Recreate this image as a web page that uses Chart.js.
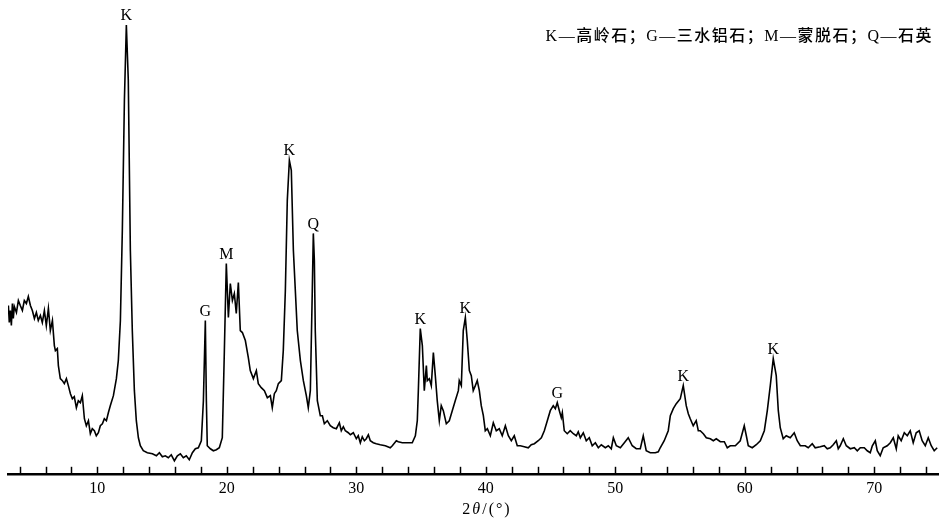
<!DOCTYPE html>
<html>
<head>
<meta charset="utf-8">
<script src="https://cdn.jsdelivr.net/npm/chart.js@4.4.1/dist/chart.umd.min.js"></script>
<style>
  html, body { margin: 0; padding: 0; background: #fff; }
  #wrap { width: 939px; height: 523px; }
</style>
</head>
<body>
<div id="wrap"><canvas id="xrdChart" width="939" height="523"></canvas></div>
<script>
// Datos del difractograma (2θ en grados, intensidad relativa)
const twoTheta = [
  3.13, 3.20, 3.28, 3.36, 3.44, 3.51, 3.59, 3.75, 3.90, 4.05, 4.21, 4.36, 4.52, 4.67, 4.83, 4.98,
  5.14, 5.29, 5.44, 5.60, 5.75, 5.91, 6.06, 6.22, 6.37, 6.53, 6.68, 6.76, 6.91, 6.99, 7.14, 7.30,
  7.45, 7.61, 7.76, 7.92, 8.07, 8.22, 8.38, 8.53, 8.69, 8.84, 9.00, 9.15, 9.31, 9.46, 9.61, 9.77,
  9.92, 10.08, 10.23, 10.39, 10.54, 10.70, 10.85, 11.00, 11.24, 11.47, 11.62, 11.78, 11.93, 12.09,
  12.24, 12.39, 12.55, 12.70, 12.86, 13.01, 13.17, 13.32, 13.55, 13.86, 14.25, 14.56, 14.79, 15.02,
  15.25, 15.48, 15.71, 15.95, 16.18, 16.41, 16.64, 16.87, 17.10, 17.34, 17.57, 17.80, 18.03, 18.19,
  18.34, 18.42, 18.49, 18.73, 18.96, 19.19, 19.42, 19.65, 19.81, 19.96, 20.12, 20.27, 20.43, 20.58,
  20.73, 20.89, 21.04, 21.20, 21.43, 21.66, 21.81, 22.05, 22.28, 22.43, 22.66, 22.90, 23.13, 23.36,
  23.51, 23.67, 23.82, 23.98, 24.21, 24.36, 24.52, 24.67, 24.83, 24.98, 25.14, 25.29, 25.44, 25.68,
  25.91, 26.14, 26.29, 26.45, 26.60, 26.68, 26.76, 26.83, 26.99, 27.22, 27.38, 27.53, 27.76, 27.99,
  28.22, 28.46, 28.69, 28.84, 29.00, 29.15, 29.38, 29.54, 29.77, 30.00, 30.15, 30.31, 30.46, 30.62,
  30.77, 30.93, 31.08, 31.31, 31.54, 31.85, 32.24, 32.62, 32.78, 33.09, 33.24, 33.55, 34.32, 34.56,
  34.71, 34.79, 34.94, 35.10, 35.25, 35.41, 35.48, 35.64, 35.79, 35.95, 36.10, 36.25, 36.41, 36.56,
  36.72, 36.95, 37.18, 37.41, 37.64, 37.88, 37.95, 38.11, 38.26, 38.42, 38.57, 38.73, 38.88, 39.03,
  39.19, 39.34, 39.50, 39.65, 39.81, 39.96, 40.12, 40.35, 40.58, 40.81, 41.04, 41.27, 41.51, 41.74,
  41.97, 42.20, 42.43, 42.66, 42.97, 43.28, 43.51, 43.75, 44.05, 44.29, 44.52, 44.75, 44.98, 45.21,
  45.37, 45.52, 45.68, 45.83, 45.91, 46.06, 46.29, 46.52, 46.76, 46.99, 47.14, 47.30, 47.53, 47.76,
  47.99, 48.22, 48.46, 48.69, 48.92, 49.23, 49.46, 49.69, 49.85, 50.08, 50.39, 50.70, 51.00, 51.31,
  51.62, 51.93, 52.16, 52.39, 52.70, 53.09, 53.32, 53.47, 53.78, 54.09, 54.25, 54.48, 54.71, 55.02,
  55.25, 55.48, 55.64, 55.79, 56.02, 56.25, 56.41, 56.56, 56.80, 57.03, 57.34, 57.57, 57.80, 58.11,
  58.42, 58.65, 58.88, 59.27, 59.65, 59.96, 60.12, 60.27, 60.58, 60.89, 61.20, 61.51, 61.74, 61.97,
  62.20, 62.43, 62.59, 62.74, 62.97, 63.20, 63.51, 63.82, 64.05, 64.29, 64.67, 64.90, 65.21, 65.44,
  65.83, 66.14, 66.37, 66.60, 66.83, 67.07, 67.22, 67.37, 67.61, 67.84, 68.15, 68.46, 68.69, 68.92,
  69.23, 69.46, 69.69, 69.85, 70.08, 70.23, 70.46, 70.69, 71.00, 71.24, 71.47, 71.70, 71.85, 72.08,
  72.32, 72.55, 72.78, 73.01, 73.24, 73.47, 73.70, 73.94, 74.17, 74.40, 74.63, 74.86
];

const intensity = [
  168, 151, 163, 148, 170, 155, 167, 161, 173, 168, 163, 173, 170, 177, 168, 163,
  155, 161, 153, 158, 151, 163, 148, 165, 143, 153, 128, 123, 125, 108, 95, 93,
  90, 95, 88, 80, 75, 77, 66, 73, 71, 78, 55, 48, 53, 40, 45, 43,
  38, 41, 48, 50, 55, 53, 61, 68, 78, 95, 113, 153, 243, 373,
  448, 393, 223, 143, 83, 53, 36, 28, 23, 21, 20, 18, 21, 17,
  18, 16, 19, 13, 18, 20, 16, 18, 14, 21, 25, 26, 33, 73,
  153, 73, 28, 25, 23, 24, 26, 36, 123, 210, 156, 190, 173, 180,
  160, 191, 143, 141, 133, 116, 103, 95, 103, 90, 86, 83, 76, 78,
  66, 80, 83, 90, 93, 123, 183, 273, 313, 303, 223, 183, 143, 113,
  93, 78, 66, 83, 183, 240, 213, 143, 73, 58, 58, 50, 53, 48,
  46, 45, 51, 43, 47, 43, 41, 39, 41, 35, 38, 31, 37, 33,
  35, 39, 33, 31, 30, 29, 28, 26, 28, 33, 32, 31, 31, 38,
  53, 83, 145, 128, 83, 108, 93, 95, 88, 121, 98, 73, 53, 68,
  63, 50, 53, 63, 73, 83, 93, 88, 143, 156, 133, 103, 98, 83,
  88, 93, 83, 68, 58, 43, 45, 38, 51, 43, 45, 38, 48, 38,
  33, 38, 28, 28, 27, 26, 29, 30, 33, 36, 43, 53, 63, 68,
  65, 71, 63, 56, 61, 43, 40, 43, 40, 38, 42, 36, 41, 33,
  36, 28, 31, 26, 29, 26, 28, 25, 36, 28, 26, 31, 36, 28,
  25, 25, 38, 23, 21, 21, 22, 26, 33, 43, 58, 65, 70, 75,
  88, 68, 60, 55, 48, 53, 43, 43, 40, 36, 35, 33, 35, 32,
  32, 26, 28, 28, 33, 48, 38, 28, 26, 29, 33, 43, 63, 88,
  115, 98, 63, 46, 35, 38, 36, 41, 33, 28, 28, 26, 30, 26,
  27, 28, 25, 26, 29, 33, 25, 28, 35, 28, 25, 26, 23, 26,
  26, 23, 21, 28, 33, 23, 18, 26, 28, 31, 36, 25, 38, 33,
  41, 38, 43, 31, 41, 43, 33, 28, 36, 28, 23, 26
];

// Marcas del eje x (menores cada 2°, etiquetas cada 10°)
const tickValues = [4, 6, 8, 10, 12, 14, 16, 18, 20, 22, 24, 26, 28, 30, 32, 34, 36, 38,
  40, 42, 44, 46, 48, 50, 52, 54, 56, 58, 60, 62, 64, 66, 68, 70, 72, 74];
const tickLabels = [10, 20, 30, 40, 50, 60, 70];

// Picos identificados
const peakLetters = ['K', 'G', 'M', 'K', 'Q', 'K', 'K', 'G', 'K', 'K'];
const peakTheta = [12.24, 18.34, 19.96, 24.83, 26.68, 34.94, 38.42, 45.52, 55.25, 62.20];

const legendText = 'K—高岭石；G—三水铝石；M—蒙脱石；Q—石英';

const serif = '"Liberation Serif", "DejaVu Serif", serif';
const cjk = '"Liberation Serif", "Noto Sans CJK SC", serif';

// Función para dibujar las marcas hacia arriba, las letras y los textos
const xrdDecor = {
  id: 'xrdDecor',
  afterDraw(chart) {
    const ctx = chart.ctx;
    const xs = chart.scales.x;
    const ys = chart.scales.y;
    const base = chart.chartArea.bottom;

    ctx.save();
    ctx.strokeStyle = '#000';
    ctx.lineWidth = 1.5;
    tickValues.forEach(v => {
      const px = Math.round(xs.getPixelForValue(v)) + 0.5;
      ctx.beginPath();
      ctx.moveTo(px, base);
      ctx.lineTo(px, base - 7);
      ctx.stroke();
    });

    // Letras sobre los picos
    ctx.fillStyle = '#000';
    ctx.font = '16px ' + serif;
    ctx.textAlign = 'center';
    ctx.textBaseline = 'middle';
    peakLetters.forEach((letter, i) => {
      const idx = twoTheta.indexOf(peakTheta[i]);
      const px = xs.getPixelForValue(peakTheta[i]);
      const py = ys.getPixelForValue(intensity[idx]);
      ctx.fillText(letter, px, py - 9);
    });

    // Leyenda de minerales
    ctx.font = '500 16px ' + cjk;
    ctx.textAlign = 'right';
    ctx.letterSpacing = '1.5px';
    ctx.fillText(legendText, 933, 37);

    // Título del eje: 2θ/(°)
    ctx.textAlign = 'left';
    ctx.letterSpacing = '2px';
    const y0 = 510;
    const parts = [['2', 'normal'], ['θ', 'italic'], ['/(°)', 'normal']];
    let total = 0;
    parts.forEach(p => {
      ctx.font = p[1] + ' 16px ' + serif;
      total += ctx.measureText(p[0]).width;
    });
    let cx = 487 - total / 2;
    parts.forEach(p => {
      ctx.font = p[1] + ' 16px ' + serif;
      ctx.fillText(p[0], cx, y0);
      cx += ctx.measureText(p[0]).width;
    });
    ctx.letterSpacing = '0px';
    ctx.restore();
  }
};

const points = twoTheta.map((t, i) => ({ x: t, y: intensity[i] }));

const config = {
  type: 'line',
  data: {
    datasets: [{
      data: points,
      borderColor: '#000',
      borderWidth: 1.6,
      pointRadius: 0,
      tension: 0,
      fill: false,
    }],
  },
  options: {
    responsive: false,
    animation: false,
    layout: { padding: { left: 8, right: 0, top: 0, bottom: 20 } },
    plugins: {
      legend: { display: false },
      tooltip: { enabled: false },
    },
    scales: {
      x: {
        type: 'linear',
        min: 3.1,
        max: 75.0,
        afterBuildTicks: axis => {
          axis.ticks = tickValues.map(v => ({ value: v }));
        },
        grid: { display: false, drawTicks: false },
        border: { display: true, color: '#000', width: 2.5 },
        ticks: {
          autoSkip: false,
          maxRotation: 0,
          padding: 5,
          color: '#000',
          font: { family: serif, size: 16 },
          callback: v => tickLabels.includes(v) ? String(v) : '',
        },
      },
      y: {
        display: false,
        min: 0,
        max: 473,
      },
    },
  },
  plugins: [xrdDecor],
};

// Crear el gráfico
const ctx = document.getElementById('xrdChart').getContext('2d');
const xrdChart = new Chart(ctx, config);
</script>
</body>
</html>
